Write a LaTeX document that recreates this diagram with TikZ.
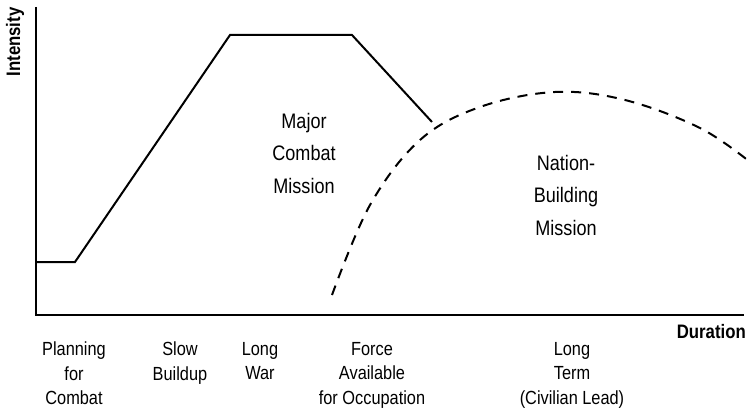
\documentclass[tikz,border=0pt]{standalone}
\usepackage{fontspec}
\setmainfont[FakeStretch=0.86]{Liberation Sans}
\usepackage{tikz}
\usetikzlibrary{positioning}

\begin{document}
\begin{tikzpicture}[
            x=1pt, y=-1pt,
            axis/.style={line width=2pt},
            effort/.style={line width=2pt, line join=miter},
            rebuild/.style={line width=2pt, dash pattern=on 10pt off 8pt},
            phase/.style={align=center, font=\fontsize{19}{24.5}\selectfont, inner sep=0pt, anchor=north},
            region/.style={align=center, font=\fontsize{21}{32.5}\selectfont, inner sep=0pt},
            axislabel/.style={font=\fontsize{19.5}{22}\selectfont\bfseries, inner sep=0pt}
        ]
        \useasboundingbox (0, 0) rectangle (748, 412);

        % axes
        \coordinate (top) at (36, 7);
        \coordinate (origin) at (36, 315);
        \coordinate (xend) at (744, 315);
        \draw[axis] (top) -- (origin) -- (xend);
        \node[axislabel, rotate=90] (intensity) at (15, 42) {Intensity};
        \node[axislabel, anchor=east] (duration) at (746, 332) {Duration};

        % major combat
        \coordinate (start) at (36, 262);
        \coordinate (plan) at (75, 262);
        \coordinate (peakL) at (230, 35);
        \coordinate (peakR) at (352, 35);
        \coordinate (stop) at (432, 122);
        \draw[effort] (start) -- (plan) -- (peakL) -- (peakR) -- (stop);

        % nation building
        \draw[rebuild] plot[smooth, tension=0.6] coordinates {
            (332, 295) (370, 205) (420, 140) (480, 107) (555, 92) (625, 100) (700, 128) (750, 162)};

        \node[region] (combat) at (304, 153) {Major\\Combat\\Mission};
        \node[region] (nation) at (566, 195) {Nation-\\Building\\Mission};

        % phases
        \node[phase] (planning) at (74, 342) {Planning\\for\\Combat};
        \node[phase] (buildup) at (180, 342) {Slow\\Buildup};
        \node[phase] (war) at (260, 342) {Long\\War};
        \node[phase] (occupation) at (372, 342) {Force\\Available\\for Occupation};
        \node[phase] (longterm) at (572, 342) {Long\\Term\\(Civilian Lead)};
    \end{tikzpicture}
\end{document}
